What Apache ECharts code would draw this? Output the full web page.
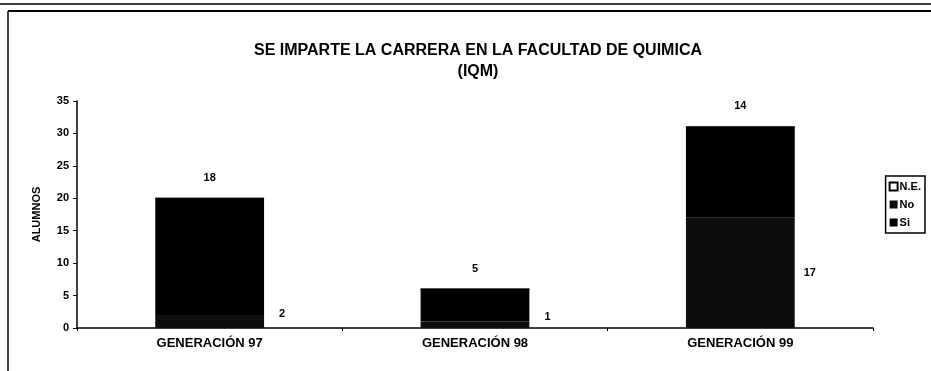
<!DOCTYPE html>
<html>
<head>
<meta charset="utf-8">
<script src="https://cdn.jsdelivr.net/npm/echarts@6/dist/echarts.min.js"></script>
<style>
  html, body { margin: 0; padding: 0; background: #fff; }
  #chart { width: 931px; height: 371px; }
</style>
</head>
<body>
<div id="chart"></div>
<script>
// Alumnos por generación: ¿se imparte la carrera en la Facultad de Química?
const generaciones = ['GENERACIÓN 97', 'GENERACIÓN 98', 'GENERACIÓN 99'];
const respuestasNo = [2, 1, 17];
const respuestasSi = [18, 5, 14];
const respuestasNE = [0, 0, 0];
const ticksY = [0, 5, 10, 15, 20, 25, 30, 35];

const FONT = '"Liberation Sans", Arial, sans-serif';
const chart = echarts.init(document.getElementById('chart'), null, { renderer: 'canvas' });

// small segments get their label lifted a little so it clears the axis line
const noData = respuestasNo.map(v => ({
  value: v,
  label: v < 5 ? { offset: [6, -8] } : {}
}));

chart.setOption({
  animation: false,
  backgroundColor: '#fff',
  textStyle: { fontFamily: FONT },
  title: {
    text: 'SE IMPARTE LA CARRERA EN LA FACULTAD DE QUIMICA\n(IQM)',
    left: 473,
    top: 35,
    textAlign: 'center',
    textStyle: { fontSize: 16, fontWeight: 'bold', color: '#000', lineHeight: 21, fontFamily: FONT }
  },
  legend: {
    orient: 'vertical',
    right: 6,
    top: 176,
    itemWidth: 8,
    itemHeight: 8,
    itemGap: 7,
    padding: [5, 4, 5, 3],
    borderColor: '#000',
    borderWidth: 1.5,
    icon: 'rect',
    data: ['N.E.', 'No', 'Si'],
    textStyle: { fontSize: 11, fontWeight: 'bold', color: '#000', padding: [0, 0, 0, -3], fontFamily: FONT }
  },
  grid: { left: 77, right: 58, top: 101, bottom: 43 },
  xAxis: {
    type: 'category',
    data: generaciones,
    axisLine: { lineStyle: { color: '#000', width: 1.5 } },
    axisTick: { show: true, inside: false, length: 3, lineStyle: { color: '#000' } },
    axisLabel: { fontSize: 13, fontWeight: 'bold', color: '#000', margin: 9, fontFamily: FONT }
  },
  yAxis: {
    type: 'value',
    min: ticksY[0],
    max: ticksY[ticksY.length - 1],
    interval: ticksY[1] - ticksY[0],
    name: 'ALUMNOS',
    nameLocation: 'middle',
    nameGap: 35,
    nameTextStyle: { fontSize: 11, fontWeight: 'bold', color: '#000', fontFamily: FONT },
    splitLine: { show: false },
    axisLine: { show: true, lineStyle: { color: '#000', width: 1.5 } },
    axisTick: { show: true, length: 4, lineStyle: { color: '#000' } },
    axisLabel: { fontSize: 11, fontWeight: 'bold', color: '#000', margin: 8, fontFamily: FONT }
  },
  series: [
    {
      name: 'No',
      type: 'bar',
      stack: 'total',
      barWidth: '41%',
      data: noData,
      itemStyle: { color: '#0e0e0e' },
      label: {
        show: true,
        position: 'right',
        distance: 9,
        fontSize: 11,
        fontWeight: 'bold',
        color: '#000',
        fontFamily: FONT
      }
    },
    {
      name: 'Si',
      type: 'bar',
      stack: 'total',
      data: respuestasSi,
      itemStyle: { color: '#000' },
      label: {
        show: true,
        position: 'top',
        distance: 15,
        fontSize: 11,
        fontWeight: 'bold',
        color: '#000',
        fontFamily: FONT
      }
    },
    {
      name: 'N.E.',
      type: 'bar',
      stack: 'total',
      data: respuestasNE,
      itemStyle: { color: '#fff', borderColor: '#000', borderWidth: 1 },
      label: { show: false }
    }
  ],
  graphic: [
    { type: 'line', shape: { x1: 0, y1: 4, x2: 931, y2: 4 }, style: { stroke: '#000', lineWidth: 1.5 } },
    { type: 'line', shape: { x1: 8, y1: 11, x2: 931, y2: 11 }, style: { stroke: '#000', lineWidth: 2 } },
    { type: 'line', shape: { x1: 8, y1: 11, x2: 8, y2: 371 }, style: { stroke: '#000', lineWidth: 1.5 } }
  ]
});
</script>
</body>
</html>
